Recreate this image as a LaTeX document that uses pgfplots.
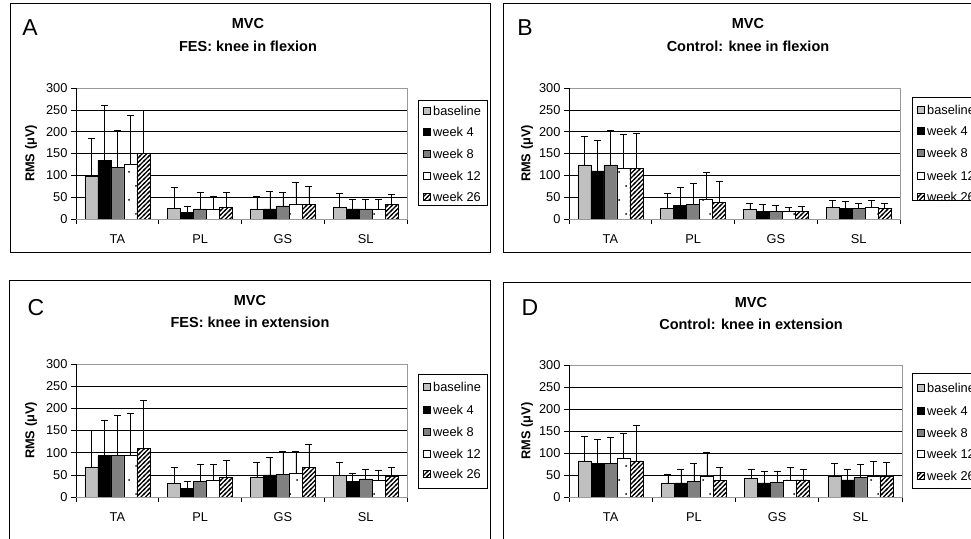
\documentclass[border=0pt]{standalone}
\usepackage{fontspec}
\setmainfont{Liberation Sans}
\usepackage{pgfplots}
\pgfplotsset{compat=1.18}
\usetikzlibrary{patterns}
\definecolor{c1}{HTML}{C0C0C0}
\definecolor{c3}{HTML}{808080}
\pgfdeclarepatternformonly{sparsedots}{\pgfqpoint{-1bp}{-1bp}}{\pgfqpoint{15bp}{29bp}}{\pgfqpoint{14bp}{28bp}}{%
  \pgfpathcircle{\pgfqpoint{3bp}{3bp}}{1bp}%
  \pgfpathcircle{\pgfqpoint{10bp}{17bp}}{1bp}%
  \pgfusepath{fill}}
\pgfdeclarepatternformonly{hatch}{\pgfqpoint{-1bp}{-1bp}}{\pgfqpoint{5.5bp}{5.5bp}}{\pgfqpoint{4.5bp}{4.5bp}}{%
  \pgfsetlinewidth{1.1bp}%
  \pgfpathmoveto{\pgfqpoint{-1bp}{-1bp}}%
  \pgfpathlineto{\pgfqpoint{5.5bp}{5.5bp}}%
  \pgfusepath{stroke}}
\tikzset{
  s1/.style={fill=c1, draw=black, line width=0.6bp},
  s2/.style={fill=black, draw=black, line width=0.6bp},
  s3/.style={fill=c3, draw=black, line width=0.6bp},
  s4/.style={fill=white, draw=black, line width=0.6bp, postaction={pattern=sparsedots}},
  s5/.style={fill=white, draw=black, line width=0.6bp, postaction={pattern=hatch}},
}
\pgfplotsset{
  eb/.style={error bars/.cd, y dir=plus, y explicit,
    error bar style={black, line width=0.6bp},
    error mark options={rotate=90, black, mark size=3.5bp, line width=0.6bp}},
  panel/.style={
    scale only axis, width=331bp, height=131bp,
    ybar=0pt, bar width=13bp,
    xmin=-0.5, xmax=3.5, ymin=0, ymax=300,
    xtick={-0.5,0.5,1.5,2.5,3.5}, x tick label as interval,
    xticklabels={TA,PL,GS,SL},
    ytick={0,50,...,300},
    xtick pos=bottom, ytick pos=left,
    tick align=outside, major tick length=5bp,
    ymajorgrids, grid style={black, line width=0.6bp},
    axis line style={gray!80, line width=0.7bp},
    tick style={black, line width=0.6bp},
    /pgf/number format/assume math mode=true,
    ticklabel style={font=\fontsize{12.8bp}{14bp}\selectfont},
    xticklabel style={yshift=-7bp},
    ylabel={RMS (μV)},
    ylabel style={font=\bfseries\fontsize{12.8bp}{14bp}\selectfont, anchor=center},
  },
}
\newcommand{\legbox}[8]{%
  \draw[black, line width=0.7bp] (#1bp,#2bp) rectangle ({#1bp+69bp},#3bp);
  \foreach \yy/\st/\tx in {#4/s1/baseline, #5/s2/week 4, #6/s3/week 8, #7/s4/week 12, #8/s5/week 26}{
    \draw[\st] ({#1bp+5bp},{\yy bp-3.5bp}) rectangle ({#1bp+12bp},{\yy bp+3.5bp});
    \node[anchor=west, inner sep=0pt, font=\fontsize{12.8bp}{14bp}\selectfont] at ({#1bp+15bp},{\yy bp}) {\tx};
  }%
}
\newcommand{\tfont}{\bfseries\fontsize{14.5bp}{16bp}\selectfont}
\newcommand{\lfont}{\fontsize{23bp}{26bp}\selectfont}
\begin{document}
\begin{tikzpicture}
\useasboundingbox (0,0) rectangle (971bp,539bp);
\clip (0,0) rectangle (971bp,539bp);
% frames
\draw[black, line width=0.9bp] (10bp,536bp) rectangle (490bp,287bp);
\draw[black, line width=0.9bp] (503bp,536bp) rectangle (985bp,287bp);
\draw[black, line width=0.9bp] (9bp,259bp) rectangle (490bp,-10bp);
\draw[black, line width=0.9bp] (503bp,257bp) rectangle (985bp,-10bp);
% letters and titles
\node[font=\lfont] at (30bp,511bp) {A};
\node[font=\lfont] at (525bp,511bp) {B};
\node[font=\lfont] at (36bp,231bp) {C};
\node[font=\lfont] at (530bp,231bp) {D};
\node[font=\tfont] at (248bp,515bp) {MVC};
\node[font=\tfont] at (248bp,493bp) {FES: knee in flexion};
\node[font=\tfont] at (748bp,515bp) {MVC};
\node[font=\tfont] at (748bp,493bp) {Control: knee in flexion};
\node[font=\tfont] at (250bp,238bp) {MVC};
\node[font=\tfont] at (250bp,217bp) {FES: knee in extension};
\node[font=\tfont] at (751bp,236bp) {MVC};
\node[font=\tfont] at (751bp,215bp) {Control: knee in extension};

% Panel A
\begin{axis}[panel, at={(76bp,320bp)}, anchor=south west,
  ylabel style={at={(axis description cs:-0.136,0.5)}}]
\addplot[s1,eb] coordinates {(0,97)+-(0,88) (1,25)+-(0,47) (2,23)+-(0,29) (3,27)+-(0,31)};
\addplot[s2,eb] coordinates {(0,134)+-(0,127) (1,15)+-(0,15) (2,23)+-(0,40) (3,23)+-(0,21)};
\addplot[s3,eb] coordinates {(0,118)+-(0,86) (1,23)+-(0,37) (2,30)+-(0,32) (3,23)+-(0,23)};
\addplot[s4,eb] coordinates {(0,126)+-(0,111) (1,23)+-(0,30) (2,34)+-(0,51) (3,23)+-(0,23)};
\addplot[s5,eb] coordinates {(0,150)+-(0,100) (1,27)+-(0,35) (2,34)+-(0,42) (3,33)+-(0,23)};
\draw[black, line width=0.8bp] (rel axis cs:0,1) -- (rel axis cs:0,0) -- (rel axis cs:1,0);
\end{axis}

% Panel B
\begin{axis}[panel, at={(569bp,320bp)}, anchor=south west,
  ylabel style={at={(axis description cs:-0.127,0.5)}}]
\addplot[s1,eb] coordinates {(0,124)+-(0,66) (1,25)+-(0,33) (2,22)+-(0,14) (3,27)+-(0,16)};
\addplot[s2,eb] coordinates {(0,110)+-(0,70) (1,31)+-(0,41) (2,17)+-(0,17) (3,25)+-(0,15)};
\addplot[s3,eb] coordinates {(0,124)+-(0,80) (1,33)+-(0,49) (2,17)+-(0,14) (3,24)+-(0,13)};
\addplot[s4,eb] coordinates {(0,116)+-(0,77) (1,46)+-(0,61) (2,17)+-(0,10) (3,27)+-(0,15)};
\addplot[s5,eb] coordinates {(0,116)+-(0,80) (1,38)+-(0,49) (2,17)+-(0,11) (3,25)+-(0,11)};
\draw[black, line width=0.8bp] (rel axis cs:0,1) -- (rel axis cs:0,0) -- (rel axis cs:1,0);
\end{axis}

% Panel C
\begin{axis}[panel, height=133bp, at={(76bp,42bp)}, anchor=south west,
  ylabel style={at={(axis description cs:-0.136,0.5)}}]
\addplot[s1,eb] coordinates {(0,68)+-(0,82) (1,30)+-(0,38) (2,44)+-(0,34) (3,49)+-(0,29)};
\addplot[s2,eb] coordinates {(0,93)+-(0,81) (1,20)+-(0,16) (2,50)+-(0,40) (3,35)+-(0,19)};
\addplot[s3,eb] coordinates {(0,93)+-(0,91) (1,35)+-(0,38) (2,51)+-(0,51) (3,41)+-(0,22)};
\addplot[s4,eb] coordinates {(0,93)+-(0,95) (1,37)+-(0,36) (2,54)+-(0,50) (3,38)+-(0,23)};
\addplot[s5,eb] coordinates {(0,109)+-(0,110) (1,44)+-(0,38) (2,66)+-(0,54) (3,46)+-(0,20)};
\draw[black, line width=0.8bp] (rel axis cs:0,1) -- (rel axis cs:0,0) -- (rel axis cs:1,0);
\end{axis}

% Panel D
\begin{axis}[panel, width=333bp, height=132bp, at={(569bp,42bp)}, anchor=south west,
  ylabel style={at={(axis description cs:-0.126,0.5)}}]
\addplot[s1,eb] coordinates {(0,82)+-(0,56) (1,32)+-(0,19) (2,42)+-(0,21) (3,48)+-(0,29)};
\addplot[s2,eb] coordinates {(0,76)+-(0,56) (1,32)+-(0,31) (2,32)+-(0,26) (3,39)+-(0,24)};
\addplot[s3,eb] coordinates {(0,76)+-(0,59) (1,35)+-(0,42) (2,34)+-(0,24) (3,45)+-(0,30)};
\addplot[s4,eb] coordinates {(0,88)+-(0,57) (1,48)+-(0,53) (2,39)+-(0,29) (3,46)+-(0,36)};
\addplot[s5,eb] coordinates {(0,82)+-(0,80) (1,37)+-(0,31) (2,39)+-(0,24) (3,48)+-(0,32)};
\draw[black, line width=0.8bp] (rel axis cs:0,1) -- (rel axis cs:0,0) -- (rel axis cs:1,0);
\end{axis}

% legends
\legbox{418}{439}{334}{428}{407}{385}{363}{342}
\legbox{912}{442}{339}{429}{408}{386}{363}{342}
\legbox{418}{165}{51}{152}{129}{107}{85}{65}
\legbox{912}{166}{51}{151}{128}{106}{85}{63}
\end{tikzpicture}
\end{document}
